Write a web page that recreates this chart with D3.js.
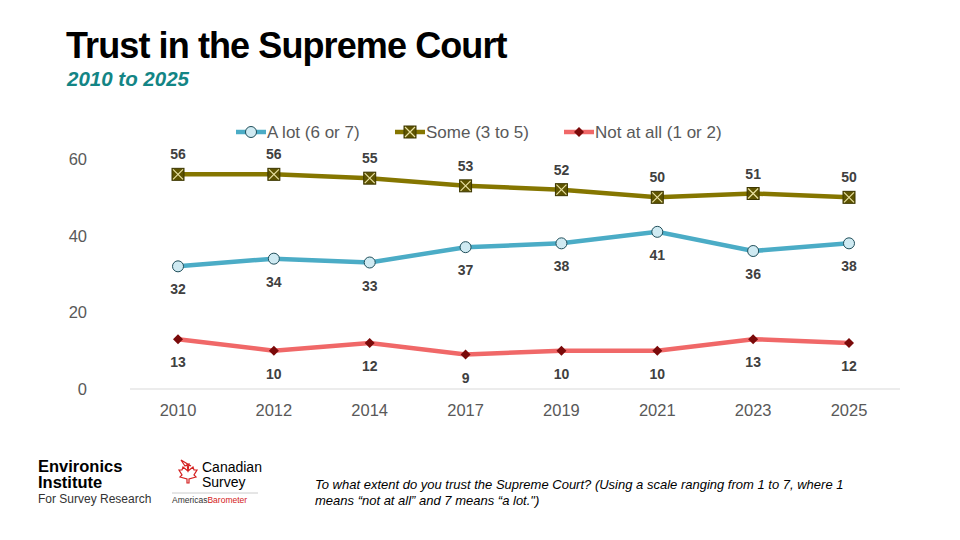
<!DOCTYPE html>
<html><head><meta charset="utf-8">
<script src="https://cdn.jsdelivr.net/npm/d3@7"></script>
<style>body{margin:0;background:#fff;font-family:Arial,"Liberation Sans",sans-serif}</style>
</head><body>
<svg class="plot" width="960" height="540"></svg>
<script>
const years = ["2010","2012","2014","2017","2019","2021","2023","2025"]
const alot = [32,34,33,37,38,41,36,38]
const some = [56,56,55,53,52,50,51,50]
const notAtAll = [13,10,12,9,10,10,13,12]
const yTicks = [0,20,40,60]

const svg = d3.select("svg.plot")
const x = d3.scalePoint().domain(years).range([178, 849])
const y = d3.scaleLinear().domain([0, 60]).range([389, 159])

svg.append("text").attr("x", 66).attr("y", 58).text("Trust in the Supreme Court")
  .attr("font-size", 36).attr("font-weight", "bold").attr("letter-spacing", -0.9)
svg.append("text").attr("x", 67).attr("y", 86).text("2010 to 2025")
  .attr("font-size", 20.5).attr("font-weight", "bold").attr("font-style", "italic").attr("fill", "#138585")

// axes
svg.append("line").attr("x1", 130).attr("x2", 900).attr("y1", y(0)).attr("y2", y(0)).attr("stroke", "#d9d9d9")
svg.append("g").selectAll("text").data(yTicks).join("text")
  .attr("x", 87).attr("y", d => y(d) + 6).attr("text-anchor", "end")
  .attr("font-size", 16.5).attr("fill", "#595959").text(d => d)
svg.append("g").selectAll("text").data(years).join("text")
  .attr("x", d => x(d)).attr("y", 416).attr("text-anchor", "middle")
  .attr("font-size", 16.5).attr("fill", "#595959").text(d => d)

const series = [
  { name: "A lot (6 or 7)", values: alot, color: "#4bacc6", marker: "circle", below: true },
  { name: "Some (3 to 5)", values: some, color: "#857600", marker: "xbox", below: false },
  { name: "Not at all (1 or 2)", values: notAtAll, color: "#f06868", marker: "diamond", below: true }
]
const line = d3.line().x((d, i) => x(years[i])).y(d => y(d))

function marker(g, type, cx, cy) {
  if (type == "circle") {
    g.append("circle").attr("cx", cx).attr("cy", cy).attr("r", 5.5).attr("fill", "#cfeaf2").attr("stroke", "#1f4e5a").attr("stroke-width", 1)
  } else if (type == "xbox") {
    g.append("rect").attr("x", cx - 6).attr("y", cy - 6).attr("width", 12).attr("height", 12).attr("fill", "#5e5400").attr("stroke", "#3d3700")
    g.append("path").attr("d", `M${cx-5},${cy-5}L${cx+5},${cy+5}M${cx+5},${cy-5}L${cx-5},${cy+5}`).attr("stroke", "#e8e0a0").attr("stroke-width", 1.2)
  } else {
    g.append("path").attr("d", `M${cx},${cy-5}L${cx+5},${cy}L${cx},${cy+5}L${cx-5},${cy}Z`).attr("fill", "#7a0a0a")
  }
}

series.forEach(s => {
  svg.append("path").datum(s.values).attr("d", line).attr("fill", "none")
    .attr("stroke", s.color).attr("stroke-width", 4.5)
  const g = svg.append("g")
  s.values.forEach((v, i) => {
    marker(g, s.marker, x(years[i]), y(v))
    svg.append("text").attr("x", x(years[i])).attr("y", s.below ? y(v) + 28 : y(v) - 15)
      .attr("text-anchor", "middle").attr("font-size", 14).attr("font-weight", "bold")
      .attr("fill", "#404040").text(v)
  })
})

// legend
const legX = [236, 395, 564]
series.forEach((s, i) => {
  const g = svg.append("g")
  g.append("line").attr("x1", legX[i]).attr("x2", legX[i] + 30).attr("y1", 132).attr("y2", 132)
    .attr("stroke", s.color).attr("stroke-width", 4.5)
  marker(g, s.marker, legX[i] + 15, 132)
  g.append("text").attr("x", legX[i] + 31).attr("y", 138).attr("font-size", 17).attr("fill", "#595959").text(s.name)
})

// footer
svg.append("text").attr("x", 38).attr("y", 472).text("Environics").attr("font-size", 16.5).attr("font-weight", "bold")
svg.append("text").attr("x", 38).attr("y", 488).text("Institute").attr("font-size", 16.5).attr("font-weight", "bold")
svg.append("text").attr("x", 38).attr("y", 503).text("For Survey Research").attr("font-size", 12).attr("fill", "#333")
svg.append("path").attr("d", "M183,459l4,6l4,-2l-1,7l5,-4l1,3l3,0l-3,5l2,2l-7,2l0,4l-2,0l0,-4l-7,-2l2,-2l-3,-5l3,0l1,-3l5,4l-1,-7l4,2z")
  .attr("fill", "none").attr("stroke", "#d42020").attr("stroke-width", 1.2).attr("transform", "translate(-2,1)")
svg.append("text").attr("x", 202).attr("y", 472).text("Canadian").attr("font-size", 14)
svg.append("text").attr("x", 202).attr("y", 487).text("Survey").attr("font-size", 14)
svg.append("line").attr("x1", 172).attr("x2", 258).attr("y1", 493).attr("y2", 493).attr("stroke", "#ccc")
const ab = svg.append("text").attr("x", 172).attr("y", 503).attr("font-size", 8.5)
ab.append("tspan").text("Americas").attr("fill", "#333")
ab.append("tspan").text("Barometer").attr("fill", "#d42020")
svg.append("text").attr("x", 315).attr("y", 489).attr("font-size", 13).attr("font-style", "italic")
  .text("To what extent do you trust the Supreme Court? (Using a scale ranging from 1 to 7, where 1")
svg.append("text").attr("x", 315).attr("y", 505).attr("font-size", 13).attr("font-style", "italic")
  .text("means “not at all” and 7 means “a lot.\")")
</script>
</body></html>
